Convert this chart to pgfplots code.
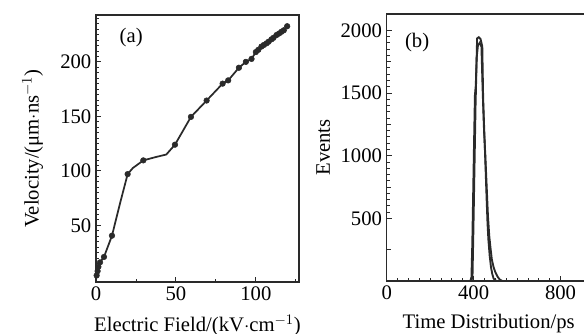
\documentclass[border=0pt]{standalone}
\usepackage{pgfplots}
\pgfplotsset{compat=1.18}
\usepackage{fontspec}
\setmainfont{Liberation Serif}
\definecolor{ink}{HTML}{2A2A2A}
\begin{document}
\begin{tikzpicture}
\useasboundingbox (0,0) rectangle (438pt,250.5pt);
\clip (0,0) rectangle (438pt,250.5pt);
\pgfplotsset{
  every axis/.append style={
    scale only axis,
    font=\fontsize{15.5}{17}\selectfont,
    /pgf/number format/assume math mode=true,
    /pgf/number format/1000 sep={},
    tick align=inside,
    tick pos=left,
    major tick length=4pt,
    minor tick length=2.5pt,
    axis line style={ink, line width=1pt},
    tick style={ink, line width=0.7pt},
    minor tick style={ink, line width=0.6pt},
    tick label style={font=\fontsize{15.5}{17}\selectfont},
    label style={font=\fontsize{15.5}{17}\selectfont},
  }
}
% ---------- panel (a) ----------
\begin{axis}[
  at={(72pt,39pt)}, anchor=south west,
  width=152.25pt, height=200.25pt,
  xmin=0, xmax=127, ymin=-2, ymax=243,
  xtick={0,50,100}, minor xtick={25,75,125},
  ytick={50,100,150,200},
  minor ytick={5,10,...,240},
  xlabel={Electric Field/(kV$\cdot$cm$^{-1}$)},
  ylabel={Velocity/(μm$\cdot$ns$^{-1}$)},
  xlabel style={yshift=-4pt},
  ylabel style={yshift=6pt},
]
\addplot[ink, line width=1.3pt] coordinates {
(0,2) (0.4,4) (1,8) (1.5,12) (2.5,16) (5,21) (10,40.5) (15,70) (19.8,97)
(23,102.5) (29.6,109.6) (37,112.5) (44,115) (49.4,124) (59.4,149.5)
(69.2,164.5) (79.2,180) (82.7,183) (89.4,194.6) (93.75,200) (97.3,202.7)
(100,209) (101.5,211) (103.5,214) (105,215.5) (106.7,217) (108,218.5)
(109.8,220.7) (111,222) (112.9,224.6) (114.5,226) (116,227.6) (117.5,229)
(119.6,232.7)
};
\addplot[only marks, mark=*, mark size=2.1pt, ink] coordinates {
(0.4,4) (1,8) (1.5,12) (2.5,16) (5,21) (10,40.5) (19.8,97) (29.6,109.6)
(49.4,124) (59.4,149.5) (69.2,164.5) (79.2,180) (82.7,183) (89.4,194.6)
(93.75,200) (97.3,202.7) (100,209) (101.5,211) (103.5,214) (105,215.5)
(106.7,217) (108,218.5) (109.8,220.7) (111,222) (112.9,224.6) (114.5,226)
(116,227.6) (117.5,229) (119.6,232.7)
};
\node[anchor=center, font=\fontsize{15.5}{17}\selectfont] at (axis cs:22,222) {(a)};
\end{axis}
% ---------- panel (b) ----------
\begin{axis}[
  at={(290pt,39.75pt)}, anchor=south west,
  width=163pt, height=200.25pt,
  xmin=0, xmax=1000, ymin=0, ymax=2130,
  xtick={0,400,800}, minor x tick num=7,
  ytick={500,1000,1500,2000}, minor y tick num=9,
  extra y ticks={250,750,1250,1750}, extra y tick labels={},
  extra y tick style={major tick length=3.2pt},
  xlabel={Time Distribution/ps},
  ylabel={Events},
  xlabel style={yshift=-4pt, xshift=-5pt},
  ylabel style={yshift=1pt},
]
\addplot[ink, line width=1.4pt] coordinates {
(0,0) (385,0) (390,30) (394,300) (398,700) (402,1100) (406,1480) (410,1560)
(414,1780) (420,1880) (428,1900) (436,1870) (442,1500) (448,1200) (454,1000)
(460,760) (466,520) (472,360) (478,260) (484,170) (492,110) (500,70)
(510,35) (520,12) (532,0) (1000,0)
};
\addplot[ink, line width=1.4pt] coordinates {
(0,0) (390,0) (395,40) (399,400) (404,900) (409,1400) (413,1700) (416,1935)
(424,1945) (432,1930) (440,1870) (444,1450) (448,1250) (452,1050) (456,850)
(460,650) (464,460) (468,330) (474,200) (480,110) (486,55) (492,20)
(500,5) (508,0) (1000,0)
};
\node[anchor=center, font=\fontsize{15.5}{17}\selectfont] at (axis cs:140,1900) {(b)};
\end{axis}
\end{tikzpicture}
\end{document}
